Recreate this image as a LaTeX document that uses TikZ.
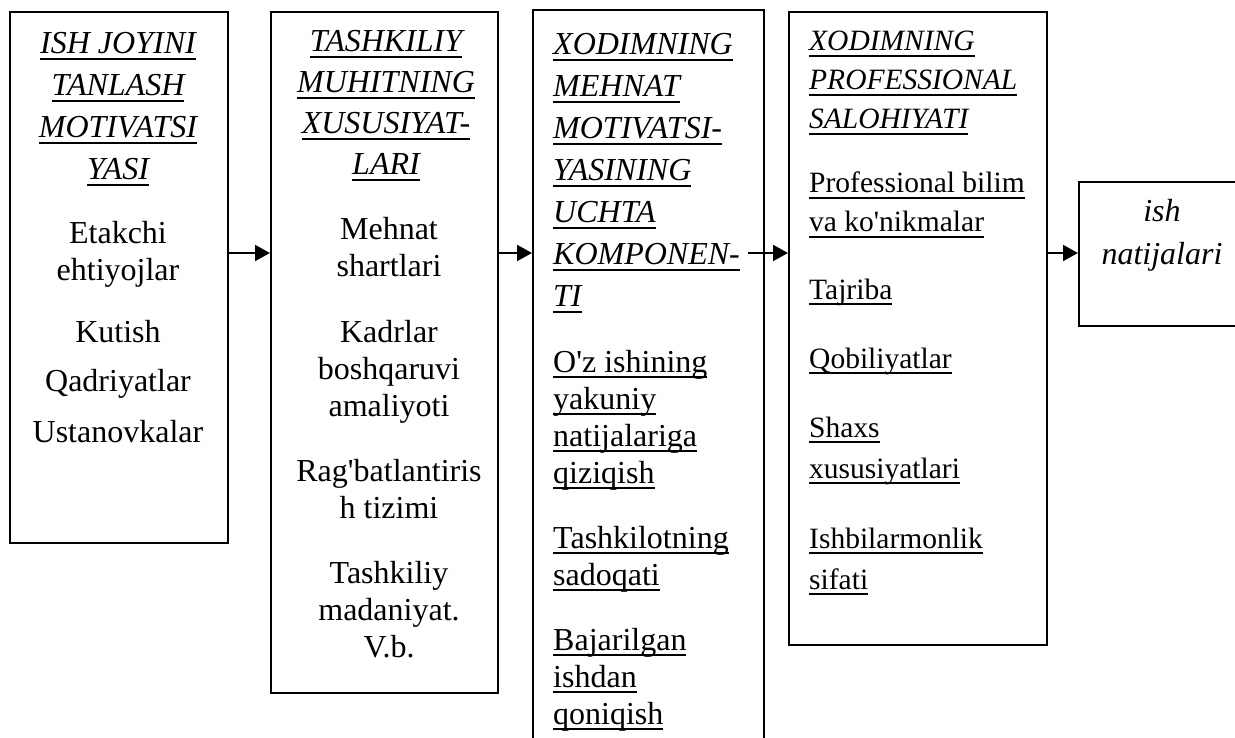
\documentclass[tikz,border=0pt]{standalone}
\usepackage{fontspec}
\setmainfont{Liberation Serif}[Ligatures=TeXOff]
\usetikzlibrary{arrows.meta}
\newcommand\myul[1]{\setbox0\hbox{#1}\rlap{\rule[-6pt]{\wd0}{1.8pt}}\box0}
\tikzset{
  boxnode/.style={draw, line width=1.8pt, rectangle, anchor=north west, inner sep=0pt},
  txt/.style={inner sep=0pt, font=\fontsize{32}{37}\selectfont},
  stxt/.style={inner sep=0pt, font=\fontsize{29.5}{35}\selectfont},
  ctxt/.style={txt, anchor=base},
  ltxt/.style={txt, anchor=base west},
  sltxt/.style={stxt, anchor=base west},
  arr/.style={line width=2pt, -{Triangle[length=15pt,width=16pt]}}
}
\begin{document}
\begin{tikzpicture}[x=1pt,y=-1pt]
\useasboundingbox (0,0) rectangle (1235,738);
\clip (0,0) rectangle (1235,738);
\fill[white] (0,0) rectangle (1235,738);
% boxes
\node[boxnode, minimum width=218pt, minimum height=531pt] (b1) at (9,11) {};
\node[boxnode, minimum width=227pt, minimum height=681pt] (b2) at (270,11) {};
\node[boxnode, minimum width=231pt, minimum height=760pt] (b3) at (532,9) {};
\node[boxnode, minimum width=258pt, minimum height=633pt] (b4) at (788,11) {};
\node[boxnode, minimum width=180pt, minimum height=144pt] (b5) at (1078,181) {};
% box 1
\node[ctxt] (t1a) at (118,54) {\myul{\itshape ISH JOYINI}};
\node[ctxt] (t1b) at (118,96) {\myul{\itshape TANLASH}};
\node[ctxt] (t1c) at (118,138) {\myul{\itshape MOTIVATSI}};
\node[ctxt] (t1d) at (118,180) {\myul{\itshape YASI}};
\node[ctxt] (t1e) at (118,244) {Etakchi};
\node[ctxt] (t1f) at (118,281) {ehtiyojlar};
\node[ctxt] (t1g) at (118,342) {Kutish};
\node[ctxt] (t1h) at (118,391) {Qadriyatlar};
\node[ctxt] (t1i) at (118,442) {Ustanovkalar};
% box 2
\node[ctxt] (t2a) at (386,52) {\myul{\itshape TASHKILIY}};
\node[ctxt] (t2b) at (386,93) {\myul{\itshape MUHITNING}};
\node[ctxt] (t2c) at (386,134) {\myul{\itshape XUSUSIYAT-}};
\node[ctxt] (t2d) at (386,175) {\myul{\itshape LARI}};
\node[ctxt] (t2e) at (389,240) {Mehnat};
\node[ctxt] (t2f) at (389,277) {shartlari};
\node[ctxt] (t2g) at (389,342) {Kadrlar};
\node[ctxt] (t2h) at (389,379) {boshqaruvi};
\node[ctxt] (t2i) at (389,416) {amaliyoti};
\node[ctxt] (t2j) at (389,481) {Rag'batlantiris};
\node[ctxt] (t2k) at (389,518) {h tizimi};
\node[ctxt] (t2l) at (389,583) {Tashkiliy};
\node[ctxt] (t2m) at (389,620) {madaniyat.};
\node[ctxt] (t2n) at (389,657) {V.b.};
% box 3
\node[ltxt] (t3a) at (553,55) {\myul{\itshape XODIMNING}};
\node[ltxt] (t3b) at (553,97) {\myul{\itshape MEHNAT}};
\node[ltxt] (t3c) at (553,139) {\myul{\itshape MOTIVATSI-}};
\node[ltxt] (t3d) at (553,181) {\myul{\itshape YASINING}};
\node[ltxt] (t3e) at (553,223) {\myul{\itshape UCHTA}};
\node[ltxt] (t3f) at (553,265) {\myul{\itshape KOMPONEN-}};
\node[ltxt] (t3g) at (553,307) {\myul{\itshape TI}};
\node[ltxt] (t3h) at (553,372) {\myul{O'z ishining}};
\node[ltxt] (t3i) at (553,409) {\myul{yakuniy}};
\node[ltxt] (t3j) at (553,446) {\myul{natijalariga}};
\node[ltxt] (t3k) at (553,483) {\myul{qiziqish}};
\node[ltxt] (t3l) at (553,548) {\myul{Tashkilotning}};
\node[ltxt] (t3m) at (553,585) {\myul{sadoqati}};
\node[ltxt] (t3n) at (553,650) {\myul{Bajarilgan}};
\node[ltxt] (t3o) at (553,687) {\myul{ishdan}};
\node[ltxt] (t3p) at (553,724) {\myul{qoniqish}};
% box 4
\node[sltxt] (t4a) at (809,51) {\myul{\itshape XODIMNING}};
\node[sltxt] (t4b) at (809,90) {\myul{\itshape PROFESSIONAL}};
\node[sltxt] (t4c) at (809,129) {\myul{\itshape SALOHIYATI}};
\node[sltxt] (t4d) at (809,193) {\myul{Professional bilim}};
\node[sltxt] (t4e) at (809,232) {\myul{va ko'nikmalar}};
\node[sltxt] (t4f) at (809,299) {\myul{Tajriba}};
\node[sltxt] (t4g) at (809,368) {\myul{Qobiliyatlar}};
\node[sltxt] (t4h) at (809,437) {\myul{Shaxs}};
\node[sltxt] (t4i) at (809,478) {\myul{xususiyatlari}};
\node[sltxt] (t4j) at (809,548) {\myul{Ishbilarmonlik}};
\node[sltxt] (t4k) at (809,589) {\myul{sifati}};
% box 5
\node[ctxt] (t5a) at (1162,222) {\itshape ish};
\node[ctxt] (t5b) at (1162,265) {\itshape natijalari};
% arrows
\coordinate (lvl) at (0,253);
\coordinate (s3) at (748,253);
\draw[arr] (b1.east |- lvl) -- (b2.west |- lvl);
\draw[arr] (b2.east |- lvl) -- (b3.west |- lvl);
\draw[arr] (s3) -- (s3 -| b4.west);
\draw[arr] (b4.east |- lvl) -- (b5.west |- lvl);
\end{tikzpicture}
\end{document}
